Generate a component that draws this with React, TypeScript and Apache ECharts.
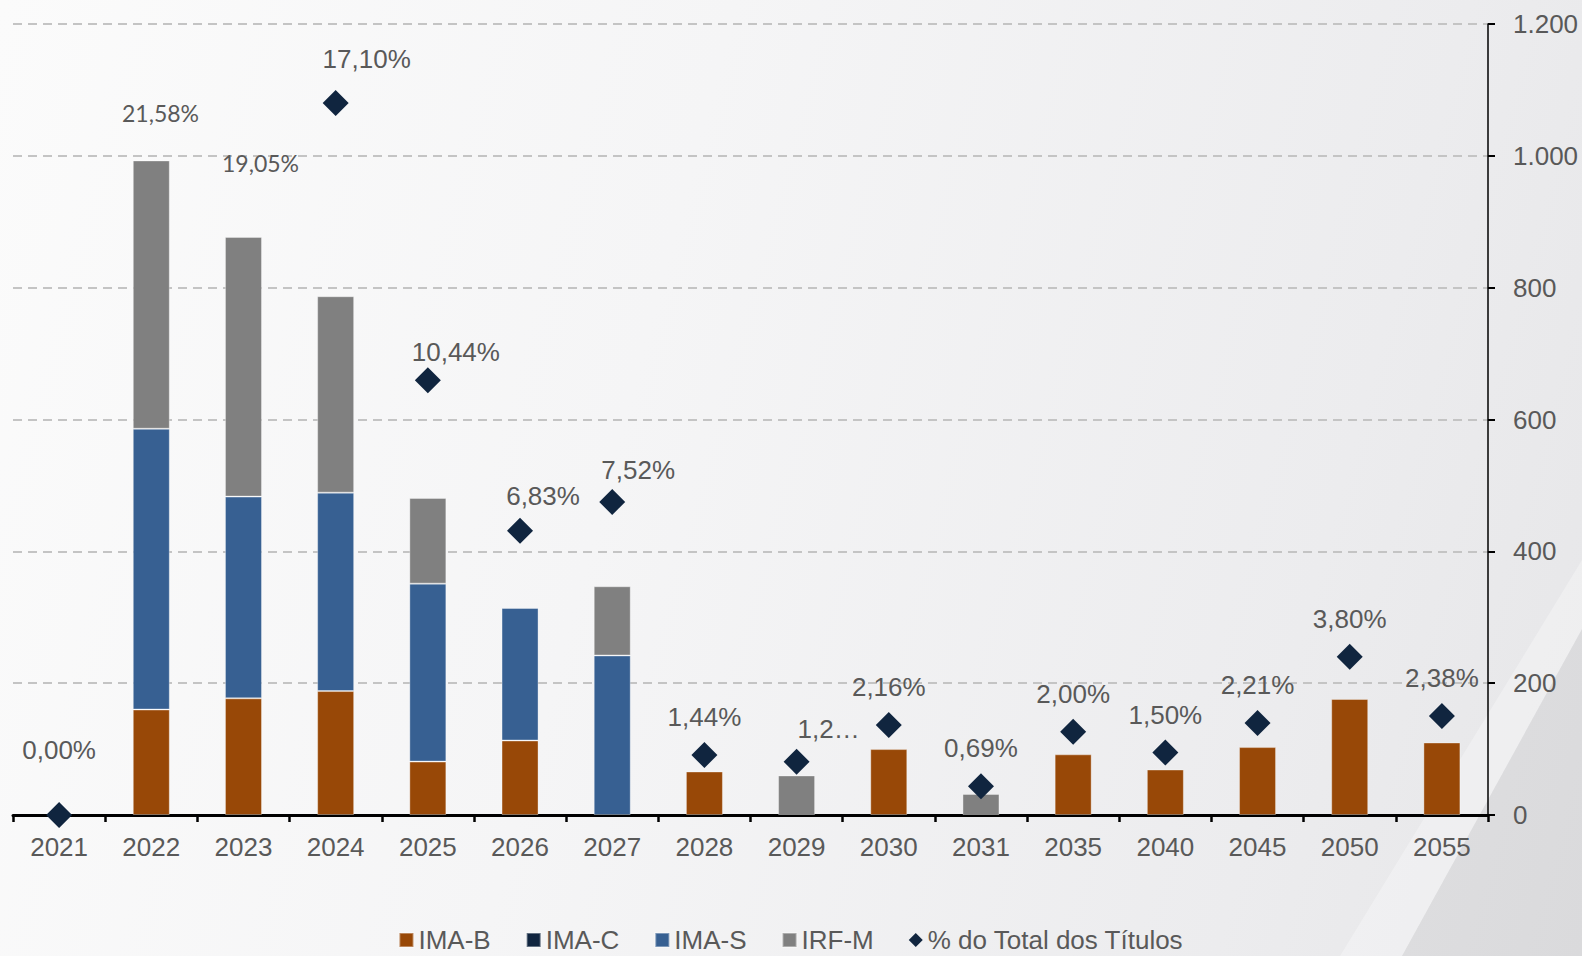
import React, { useEffect, useRef } from 'react';
import * as echarts from 'echarts';

const categories = ['2021', '2022', '2023', '2024', '2025', '2026', '2027', '2028', '2029', '2030', '2031', '2035', '2040', '2045', '2050', '2055'];
const imaB = [null, 160, 177, 188, 81, 113, null, 66, null, 100, null, 92, 69, 103, 176, 110];
const imaC = [null, null, null, null, null, null, null, null, null, null, null, null, null, null, null, null];
const imaS = [null, 426, 306, 301, 270, 201, 242, null, null, null, null, null, null, null, null, null];
const irfM = [null, 407, 394, 298, 130, null, 105, null, 60, null, 32, null, null, null, null, null];
const pctTotal = [0, 21.58, 19.05, 17.1, 10.44, 6.83, 7.52, 1.44, 1.28, 2.16, 0.69, 2.0, 1.5, 2.21, 3.8, 2.38];
const yTicksMax = 1200;
const yTickStep = 200;
const pctAxisMax = 19;

const FONT = "'Liberation Sans', Arial, sans-serif";
const TEXT = '#595959';

// label placement tweaks (style only)
const labelOffsets: Record<string, [number, number]> = {
  '2021': [0, -27],
  '2024': [31, -6],
  '2025': [28, 10],
  '2026': [23, 3],
  '2027': [26, 6],
  '2029': [32, 5],
};
const truncated: Record<string, number> = { '2029': 72 };

const fmtPct = (v: number) => v.toFixed(2).replace('.', ',') + '%';
const fmtThousands = (v: number) => String(v).replace(/\B(?=(\d{3})+(?!\d))/g, '.');

export default function App() {
  const ref = useRef<HTMLDivElement>(null);
  useEffect(() => {
    if (!ref.current) return;
    const chart = echarts.init(ref.current, undefined, { renderer: 'svg' });
    const scatterData = pctTotal.map((v, i) => {
      const cat = categories[i];
      const item: any = { value: v };
      const lbl: any = {};
      if (labelOffsets[cat]) lbl.offset = labelOffsets[cat];
      if (truncated[cat]) {
        lbl.width = truncated[cat];
        lbl.overflow = 'truncate';
        lbl.ellipsis = '…';
      }
      if (Object.keys(lbl).length) item.label = lbl;
      return item;
    });
    const barStyle = (color: string) => ({
      color,
      borderColor: 'rgba(255,255,255,0.35)',
      borderWidth: 1,
    });
    const option: any = {
      animation: false,
      backgroundColor: 'transparent',
      textStyle: { fontFamily: FONT },
      grid: { left: 13, right: 94, top: 24, bottom: 141, containLabel: false },
      legend: {
        top: 921,
        left: 'center',
        itemWidth: 14,
        itemHeight: 14,
        itemGap: 35,
        textStyle: { fontSize: 26, lineHeight: 28, color: TEXT, fontFamily: FONT },
        data: [
          { name: 'IMA-B', icon: 'rect' },
          { name: 'IMA-C', icon: 'rect' },
          { name: 'IMA-S', icon: 'rect' },
          { name: 'IRF-M', icon: 'rect' },
          { name: '% do Total dos Títulos', icon: 'diamond' },
        ],
      },
      xAxis: {
        type: 'category',
        data: categories,
        boundaryGap: true,
        axisLine: { show: true, lineStyle: { color: '#000', width: 3 } },
        axisTick: { show: true, length: 7, lineStyle: { color: '#000', width: 2.5 } },
        axisLabel: { margin: 19, fontSize: 26, color: TEXT, fontFamily: FONT },
        splitLine: { show: false },
      },
      yAxis: [
        {
          type: 'value',
          position: 'right',
          min: 0,
          max: yTicksMax,
          interval: yTickStep,
          axisLine: { show: true, lineStyle: { color: '#000', width: 1.5 } },
          axisTick: { show: true, length: 7, lineStyle: { color: '#000', width: 2 } },
          axisLabel: { margin: 25, fontSize: 26, color: TEXT, fontFamily: FONT, formatter: (v: number) => fmtThousands(v) },
          splitLine: { show: true, lineStyle: { color: '#c4c4c4', width: 2.2, type: [9, 6] } },
        },
        { type: 'value', min: 0, max: pctAxisMax, show: false, splitLine: { show: false } },
      ],
      series: [
        { name: 'IMA-B', type: 'bar', stack: 'total', barWidth: 37, data: imaB, itemStyle: barStyle('#984807') },
        { name: 'IMA-C', type: 'bar', stack: 'total', barWidth: 37, data: imaC, itemStyle: barStyle('#10253F') },
        { name: 'IMA-S', type: 'bar', stack: 'total', barWidth: 37, data: imaS, itemStyle: barStyle('#376092') },
        { name: 'IRF-M', type: 'bar', stack: 'total', barWidth: 37, data: irfM, itemStyle: barStyle('#808080') },
        {
          name: '% do Total dos Títulos',
          type: 'scatter',
          yAxisIndex: 1,
          symbol: 'diamond',
          symbolSize: 26,
          clip: true,
          z: 10,
          itemStyle: { color: '#10253F', opacity: 1 },
          label: {
            show: true,
            position: 'top',
            distance: 12,
            fontSize: 26,
            color: TEXT,
            fontFamily: FONT,
            formatter: (p: any) => fmtPct(p.value),
          },
          data: scatterData,
        },
      ],
      graphic: [
        {
          type: 'polygon',
          z: -10,
          silent: true,
          shape: { points: [[1582, 560], [1582, 629], [1402, 956], [1340, 956]] },
          style: { fill: 'rgba(255,255,255,0.3)' },
        },
        {
          type: 'polygon',
          z: -10,
          silent: true,
          shape: { points: [[1582, 629], [1582, 956], [1402, 956]] },
          style: { fill: 'rgba(0,0,0,0.05)' },
        },
        {
          type: 'text',
          x: 160.5,
          y: 112.5,
          z: 20,
          style: { text: fmtPct(pctTotal[1]), fontSize: 23, fontFamily: 'Lato', fill: TEXT, align: 'center', verticalAlign: 'middle' },
        },
        {
          type: 'text',
          x: 260.5,
          y: 163,
          z: 20,
          style: { text: fmtPct(pctTotal[2]), fontSize: 23, fontFamily: 'Lato', fill: TEXT, align: 'center', verticalAlign: 'middle' },
        },
      ],
    };
    chart.setOption(option);
    return () => chart.dispose();
  }, []);
  return (
    <div
      ref={ref}
      style={{
        position: 'absolute',
        left: 0,
        top: 0,
        width: 1582,
        height: 956,
        background: 'linear-gradient(105deg, #fbfbfb 0%, #f5f5f6 40%, #ececee 80%, #e6e6e8 100%)',
      }}
    />
  );
}
